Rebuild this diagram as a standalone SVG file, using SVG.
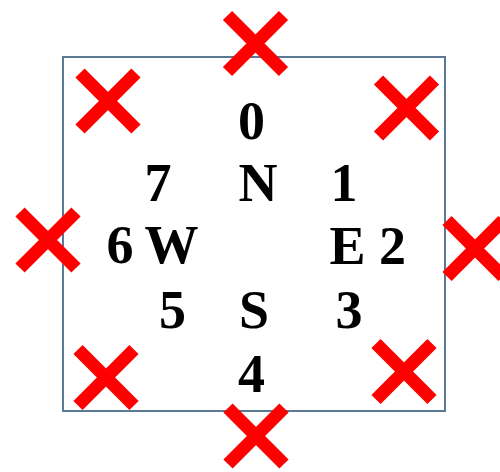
<svg xmlns="http://www.w3.org/2000/svg" xmlns:xlink="http://www.w3.org/1999/xlink" width="500" height="472" viewBox="0 0 500 472">
<style>
.t{font-family:"Liberation Serif","Times New Roman",serif;font-weight:bold;font-size:54px;fill:#000;text-anchor:middle}
.x{stroke:#ff0000;stroke-width:13;fill:none}
</style>
<defs>
<path id="cross" class="x" d="M-28,-28L28,28M28,-28L-28,28"/>
</defs>
<rect x="63" y="57" width="382" height="354" fill="none" stroke="#5b7895" stroke-width="2"/>
<g id="labels">
<text class="t" x="251.5" y="139">0</text>
<text class="t" x="158" y="201">7</text>
<text class="t" x="258" y="201">N</text>
<text class="t" x="344" y="201">1</text>
<text class="t" x="120" y="263">6</text>
<text class="t" x="171.5" y="263">W</text>
<text class="t" x="347.5" y="264">E</text>
<text class="t" x="392.5" y="264">2</text>
<text class="t" x="172.5" y="328">5</text>
<text class="t" x="254" y="328">S</text>
<text class="t" x="349" y="328">3</text>
<text class="t" x="251.5" y="392">4</text>
</g>
<g id="crosses">
<use xlink:href="#cross" x="255.5" y="43.5"/>
<use xlink:href="#cross" x="108" y="101"/>
<use xlink:href="#cross" x="406.5" y="108"/>
<use xlink:href="#cross" x="48" y="240"/>
<use xlink:href="#cross" x="475" y="248.5"/>
<use xlink:href="#cross" x="106" y="377.5"/>
<use xlink:href="#cross" x="404" y="371.5"/>
<use xlink:href="#cross" x="256" y="436"/>
</g>
</svg>
